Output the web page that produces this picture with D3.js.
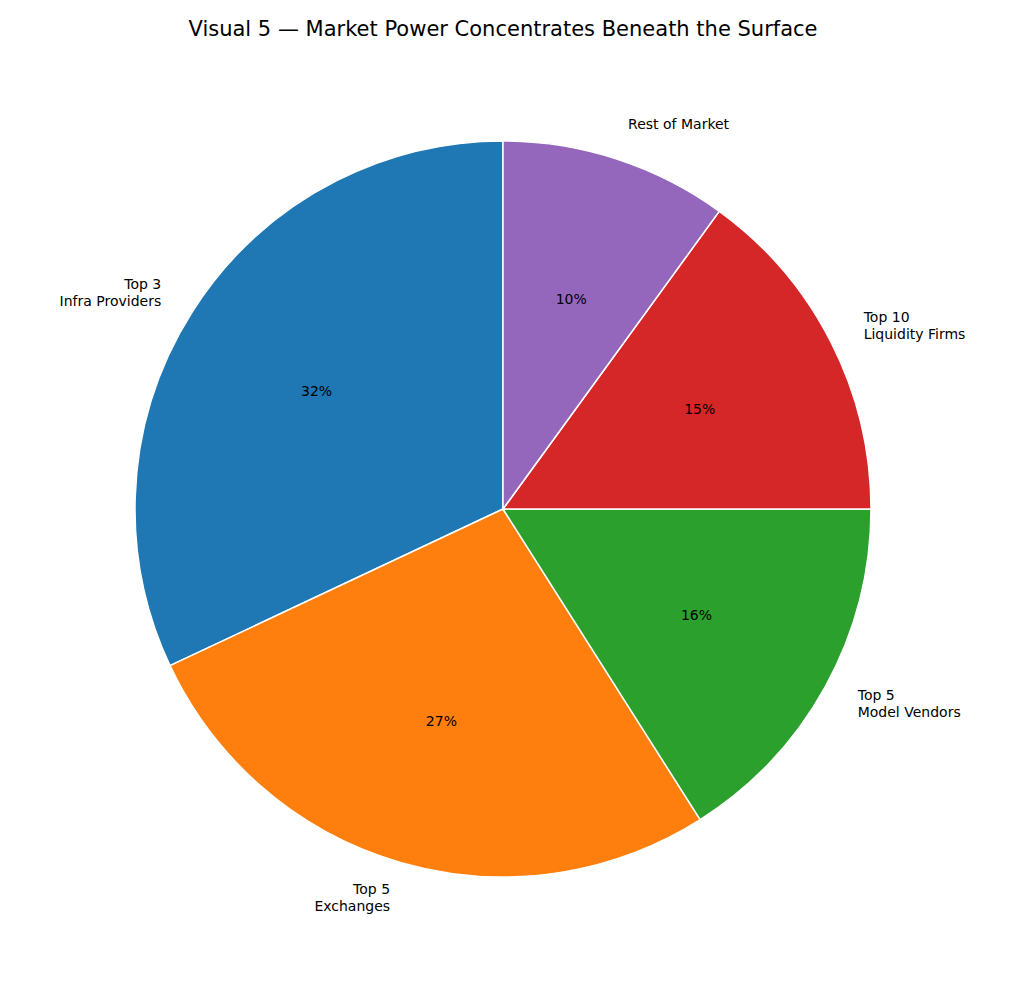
<!DOCTYPE html>
<html><head><meta charset="utf-8">
<script src="https://cdn.jsdelivr.net/npm/d3@7"></script>
<style>body{margin:0;background:#fff}</style>
</head><body><div id="chart"></div>
<script>
const labels = [["Top 3", "Infra Providers"], ["Top 5", "Exchanges"], ["Top 5", "Model Vendors"], ["Top 10", "Liquidity Firms"], ["Rest of Market"]];
const shares = [32, 27, 16, 15, 10];
const colors = ["#1f77b4", "#ff7f0e", "#2ca02c", "#d62728", "#9467bd"];

const width = 1024, height = 983, cx = 503, cy = 509, r = 368;
const font = "DejaVu Sans, sans-serif";

const svg = d3.select("#chart").append("svg")
  .attr("width", width).attr("height", height);

svg.append("text")
  .attr("x", width / 2 - 9).attr("y", 36)
  .attr("text-anchor", "middle")
  .attr("font-family", font).attr("font-size", "21px")
  .text("Visual 5 — Market Power Concentrates Beneath the Surface");

// matplotlib style: start at top, go counterclockwise
const pie = d3.pie().sort(null).startAngle(0).endAngle(-2 * Math.PI);
const arcs = pie(shares);
const arc = d3.arc().innerRadius(0).outerRadius(r);

const g = svg.append("g").attr("transform", `translate(${cx},${cy})`);

g.selectAll("path").data(arcs).join("path")
  .attr("d", arc)
  .attr("fill", (d, i) => colors[i])
  .attr("stroke", "#fff").attr("stroke-width", 1.5);

const mid = d => (d.startAngle + d.endAngle) / 2;

g.selectAll("text.pct").data(arcs).join("text")
  .attr("class", "pct")
  .attr("x", d => 0.6 * r * Math.sin(mid(d)))
  .attr("y", d => -0.6 * r * Math.cos(mid(d)))
  .attr("dy", "0.35em")
  .attr("text-anchor", "middle")
  .attr("font-family", font).attr("font-size", "14px")
  .text(d => d.data + "%");

const lh = 17;
g.selectAll("text.lbl").data(arcs).join("text")
  .attr("class", "lbl")
  .attr("text-anchor", d => Math.sin(mid(d)) < 0 ? "end" : "start")
  .attr("font-family", font).attr("font-size", "14px")
  .each(function (d, i) {
    const x = 1.1 * r * Math.sin(mid(d));
    const y = -1.1 * r * Math.cos(mid(d));
    const lines = labels[i];
    const y0 = y - (lines.length - 1) * lh / 2;
    lines.forEach((t, k) => {
      d3.select(this).append("tspan")
        .attr("x", x).attr("y", y0 + k * lh).attr("dy", "0.35em")
        .text(t);
    });
  });
</script>
</body></html>
